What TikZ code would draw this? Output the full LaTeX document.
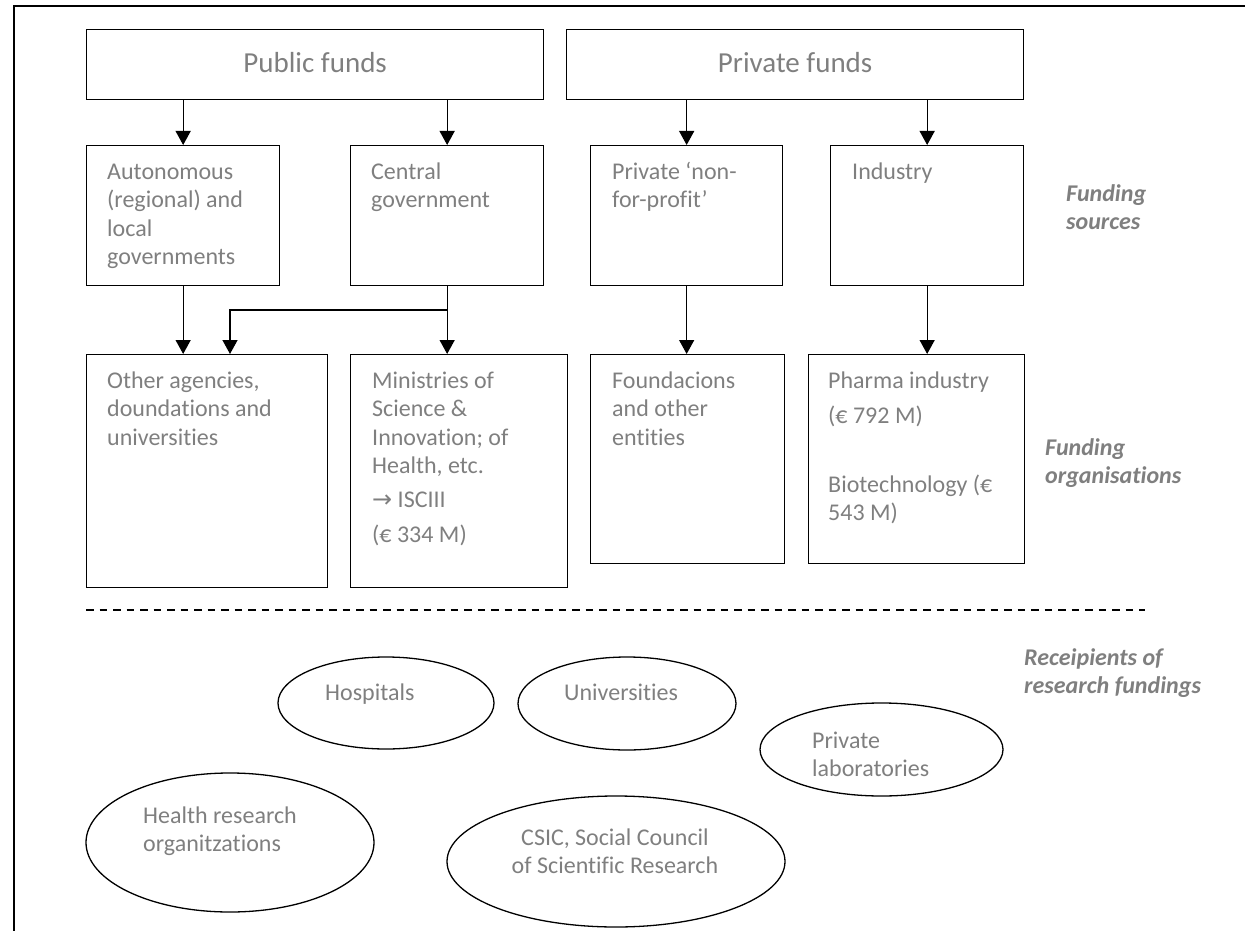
\documentclass[tikz,border=0pt]{standalone}
\usepackage{fontspec}
\setmainfont{Carlito}[Ligatures=NoCommon]
\newfontfamily\arrsym{DejaVu Sans}
\usetikzlibrary{arrows.meta,shapes.geometric}
\definecolor{txtgray}{HTML}{7F7F7F}
\newcommand{\tb}[1]{\parbox[t]{260pt}{\raggedright #1}}
\begin{document}
\begin{tikzpicture}[x=1pt,y=-1pt,
  bx/.style={draw, rectangle, line width=1.3pt, anchor=north west, inner sep=0pt},
  tx/.style={anchor=base west, inner sep=0pt, text=txtgray, font=\fontsize{24}{28.5}\selectfont},
  lbl/.style={anchor=base west, inner sep=0pt, text=txtgray, font=\fontsize{24}{28.5}\selectfont\bfseries\itshape},
  arr/.style={line width=1.3pt, -{Triangle[width=15pt,length=14pt]}},
  el/.style={draw, ellipse, line width=1.3pt, inner sep=0pt}]
\useasboundingbox (0,0) rectangle (1245,931);
\clip (0,0) rectangle (1245,931);
% outer frame (cropped at right and bottom)
\draw[line width=1.7pt] (14,960) -- (14,6) -- (1280,6);

% top row
\node[bx, minimum width=457pt, minimum height=70pt, text=txtgray, font=\fontsize{29}{34}\selectfont] (pub) at (86,29) {\raisebox{4pt}{Public funds}};
\node[bx, minimum width=457pt, minimum height=70pt, text=txtgray, font=\fontsize{29}{34}\selectfont] (priv) at (566,29) {\raisebox{4pt}{Private funds}};

% second row
\node[bx, minimum width=193pt, minimum height=140pt] (auton) at (86,145) {};
\node[bx, minimum width=193pt, minimum height=140pt] (central) at (350,145) {};
\node[bx, minimum width=192pt, minimum height=140pt] (npo) at (590,145) {};
\node[bx, minimum width=193pt, minimum height=140pt] (ind) at (830,145) {};
\node[tx] (autont) at ([xshift=21pt,yshift=-34pt]auton.north west) {\tb{Autonomous\\(regional) and\\local\\governments}};
\node[tx] (centralt) at ([xshift=21pt,yshift=-34pt]central.north west) {\tb{Central\\government}};
\node[tx] (npot) at ([xshift=22pt,yshift=-34pt]npo.north west) {\tb{Private ‘non-\\for-profit’}};
\node[tx] (indt) at ([xshift=22pt,yshift=-34pt]ind.north west) {\tb{Industry}};

% third row
\node[bx, minimum width=241pt, minimum height=233pt] (other) at (86,354) {};
\node[bx, minimum width=217pt, minimum height=233pt] (min) at (350,354) {};
\node[bx, minimum width=194pt, minimum height=209pt] (found) at (590,354) {};
\node[bx, minimum width=216pt, minimum height=209pt] (pharma) at (808,354) {};
\node[tx] (othert) at ([xshift=21pt,yshift=-34pt]other.north west) {\tb{Other agencies,\\doundations and\\universities}};
\node[tx] (mint) at ([xshift=22pt,yshift=-34pt]min.north west) {\tb{Ministries of\\Science \&\\Innovation; of\\Health, etc.\\[5.5pt]{\arrsym →} ISCIII\\[6.5pt](€ 334 M)}};
\node[tx] (foundt) at ([xshift=22pt,yshift=-34pt]found.north west) {\tb{Foundacions\\and other\\entities}};
\node[tx] (pharmat) at ([xshift=20pt,yshift=-34pt]pharma.north west) {\tb{Pharma industry\\[6.5pt](€ 792 M)\\[40.5pt]Biotechnology (€\\543 M)}};

% connectors
\draw[arr] (auton.north |- pub.south) -- (auton.north);
\draw[arr] (central.north |- pub.south) -- (central.north);
\draw[arr] (npo.north |- priv.south) -- (npo.north);
\draw[arr] (ind.north |- priv.south) -- (ind.north);
\draw[arr] (auton.south) -- (auton.south |- other.north);
\draw[arr] (central.south) -- (central.south |- min.north);
\coordinate (br) at (central.south |- 0,310);
\draw[arr] (br) -| ([xshift=144pt]other.north west);
\draw[arr] (npo.south) -- (npo.south |- found.north);
\draw[arr] (ind.south) -- (ind.south |- pharma.north);

% side labels
\node[lbl] (lsrc) at (1066,201) {\tb{Funding\\sources}};
\node[lbl] (lorg) at (1045,455) {\tb{Funding\\organisations}};
\node[lbl] (lrec) at (1024,665) {\tb{Receipients of\\research fundings}};

% dashed separator
\coordinate (dl) at (86,610);
\coordinate (dr) at (1145,610);
\draw[line width=1.3pt, dash pattern=on 7.5pt off 6pt] (dl) -- (dr);

% recipients
\node[el, minimum width=216pt, minimum height=92pt] (hosp) at (386,703) {};
\node[tx] (hospt) at (325,700) {Hospitals};
\node[el, minimum width=218pt, minimum height=93pt] (univ) at (627,703.5) {};
\node[tx] (univt) at (564,700) {Universities};
\node[el, minimum width=243pt, minimum height=93pt] (lab) at (881.5,749.5) {};
\node[tx] (labt) at (812,748) {\tb{Private\\laboratories}};
\node[el, minimum width=288pt, minimum height=139pt] (hro) at (230,842.5) {};
\node[tx] (hrot) at (143,823) {\tb{Health research\\organitzations}};
\node[el, minimum width=338pt, minimum height=131pt] (csic) at (616,861.5) {};
\node[tx, anchor=base] (csict) at (615,845) {\parbox[t]{260pt}{\centering CSIC, Social Council\\of Scientific Research}};
\end{tikzpicture}
\end{document}
